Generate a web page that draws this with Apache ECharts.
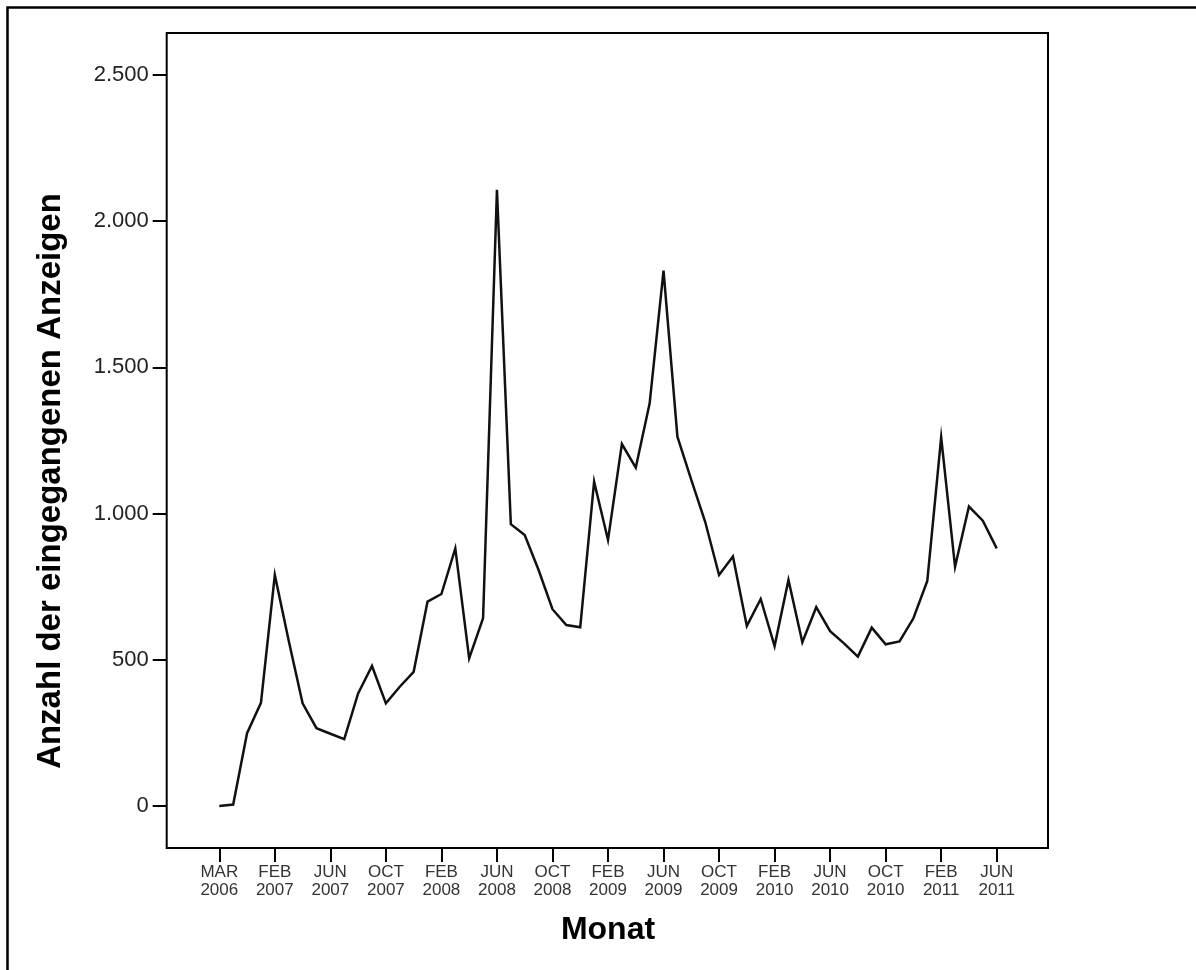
<!DOCTYPE html>
<html lang="de">
<head>
    <meta charset="UTF-8">
    <title>Anzeigen pro Monat</title>
    <script src="https://cdn.jsdelivr.net/npm/echarts@6/dist/echarts.min.js"></script>
    <style>
        html, body { margin: 0; padding: 0; background: #fff; }
        #main { width: 1196px; height: 970px; }
    </style>
</head>
<body>
<div id="main"></div>
<script>
    // Monate (nur jeder 4. wird beschriftet)
    var months = [
        'MAR 2006', 'NOV 2006', 'DEC 2006', 'JAN 2007',
        'FEB 2007', 'MAR 2007', 'APR 2007', 'MAY 2007',
        'JUN 2007', 'JUL 2007', 'AUG 2007', 'SEP 2007',
        'OCT 2007', 'NOV 2007', 'DEC 2007', 'JAN 2008',
        'FEB 2008', 'MAR 2008', 'APR 2008', 'MAY 2008',
        'JUN 2008', 'JUL 2008', 'AUG 2008', 'SEP 2008',
        'OCT 2008', 'NOV 2008', 'DEC 2008', 'JAN 2009',
        'FEB 2009', 'MAR 2009', 'APR 2009', 'MAY 2009',
        'JUN 2009', 'JUL 2009', 'AUG 2009', 'SEP 2009',
        'OCT 2009', 'NOV 2009', 'DEC 2009', 'JAN 2010',
        'FEB 2010', 'MAR 2010', 'APR 2010', 'MAY 2010',
        'JUN 2010', 'JUL 2010', 'AUG 2010', 'SEP 2010',
        'OCT 2010', 'NOV 2010', 'DEC 2010', 'JAN 2011',
        'FEB 2011', 'MAR 2011', 'APR 2011', 'MAY 2011',
        'JUN 2011'
    ];

    // Anzahl der eingegangenen Anzeigen
    var counts = [
        0, 5, 249, 353,
        790, 565, 351, 266,
        247, 229, 385, 479,
        351, 408, 459, 699,
        725, 881, 505, 642,
        2107, 964, 927, 807,
        673, 619, 611, 1109,
        910, 1238, 1157, 1377,
        1831, 1263, 1115, 972,
        790, 853, 616, 708,
        547, 773, 560, 680,
        598, 556, 511, 610,
        553, 563, 642, 770,
        1261, 818, 1024, 976,
        881
    ];

    var yTicks = [0, 500, 1000, 1500, 2000, 2500];

    function fmtThousands(v) {
        return String(v).replace(/\B(?=(\d{3})+(?!\d))/g, '.');
    }

    var myChart = echarts.init(document.getElementById('main'), null, {renderer: 'canvas'});

    var option = {
        backgroundColor: '#ffffff',
        animation: false,
        graphic: [
            // Rahmen um das ganze Bild (nur oben/links sichtbar)
            {
                type: 'rect',
                shape: {x: 7.5, y: 7.5, width: 1300, height: 1100},
                style: {fill: null, stroke: '#000', lineWidth: 2.5},
                silent: true
            },
            {
                type: 'text',
                x: 51,
                y: 481,
                rotation: Math.PI / 2,
                style: {
                    text: 'Anzahl der eingegangenen Anzeigen',
                    font: 'bold 33px "Liberation Sans", Arial, sans-serif',
                    fill: '#000',
                    align: 'center',
                    verticalAlign: 'middle'
                }
            }
        ],
        grid: [
            // Rahmen des Diagrammbereichs
            {
                left: 166.7, top: 33, right: 148, bottom: 122,
                show: true, borderColor: '#000', borderWidth: 2,
                backgroundColor: 'transparent'
            },
            // Datenbereich (oben/unten wie Rahmen, links/rechts auf erste/letzte Kategorie)
            {
                left: 219.3, top: 33, right: 199.3, bottom: 122
            }
        ],
        xAxis: [
            {gridIndex: 0, type: 'value', show: false, min: 0, max: 1},
            {
                gridIndex: 1,
                type: 'category',
                data: months,
                boundaryGap: false,
                axisLine: {show: false, onZero: false},
                axisTick: {
                    show: true,
                    interval: 3,
                    length: 14,
                    lineStyle: {color: '#000', width: 2}
                },
                axisLabel: {
                    interval: 3,
                    margin: 16,
                    color: '#333',
                    fontSize: 17,
                    lineHeight: 17.5,
                    fontFamily: '"Liberation Sans", Arial, sans-serif',
                    formatter: function (v) { return v.replace(' ', '\n'); }
                },
                splitLine: {show: false},
                name: 'Monat',
                nameLocation: 'middle',
                nameGap: 66,
                nameTextStyle: {
                    color: '#000',
                    fontSize: 32,
                    fontWeight: 'bold',
                    fontFamily: '"Liberation Sans", Arial, sans-serif'
                }
            }
        ],
        yAxis: [
            {gridIndex: 0, type: 'value', show: false, min: 0, max: 1},
            {
                gridIndex: 1,
                type: 'value',
                min: -143.6,
                max: 2643.6,
                offset: 52.6,
                axisLine: {show: false},
                axisTick: {
                    show: true,
                    length: 14,
                    customValues: yTicks,
                    lineStyle: {color: '#000', width: 2}
                },
                axisLabel: {
                    margin: 18,
                    color: '#222',
                    fontSize: 22,
                    customValues: yTicks,
                    fontFamily: '"Liberation Sans", Arial, sans-serif',
                    formatter: fmtThousands
                },
                splitLine: {show: false}
            }
        ],
        series: [
            {
                name: 'Anzeigen',
                type: 'line',
                xAxisIndex: 1,
                yAxisIndex: 1,
                data: counts,
                showSymbol: false,
                symbol: 'none',
                lineStyle: {color: '#111', width: 2.5, join: 'miter'}
            }
        ]
    };

    myChart.setOption(option);
</script>
</body>
</html>
